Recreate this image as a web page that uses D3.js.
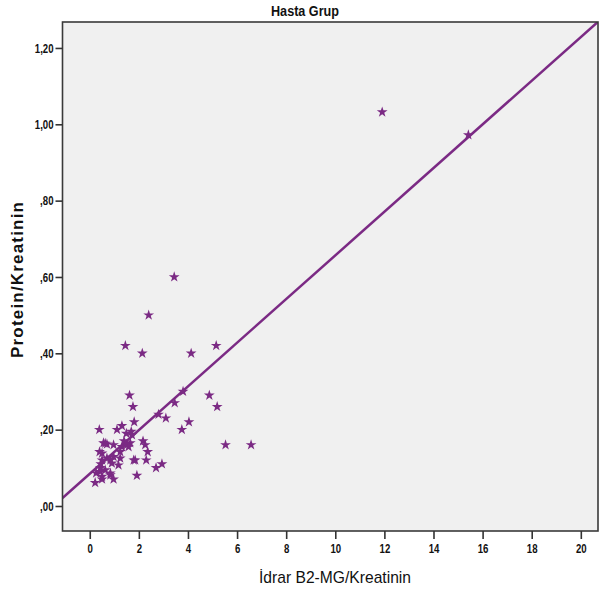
<!DOCTYPE html>
<html>
<head>
<meta charset="utf-8">
<script src="https://cdn.jsdelivr.net/npm/d3@7"></script>
<style>
  body { margin: 0; background: #fff; }
  text { font-family: "Liberation Sans", Arial, sans-serif; }
</style>
</head>
<body>
<div id="chart"></div>
<script>
// values
const b2mg = [11.91, 15.42, 3.44, 2.40, 2.14, 1.45, 4.13, 5.15, 3.80, 3.46, 4.87, 5.19, 2.80, 3.10,
  4.04, 3.75, 5.53, 6.57, 1.62, 1.76, 1.81, 0.39, 1.11, 1.31, 1.49, 1.69, 1.65, 1.51, 2.17, 2.26,
  2.36, 2.30, 1.85, 2.70, 2.94, 1.92, 0.56, 0.70, 0.40, 0.50, 0.43, 0.26, 0.22, 0.50, 0.84, 0.97,
  1.24, 1.17, 0.84, 0.70, 0.63, 0.97, 1.31, 1.24, 1.58, 1.79, 0.50, 0.97, 0.90, 0.63, 0.43, 0.84,
  0.50, 1.72, 1.40, 0.45];
const protein = [1.032, 0.972, 0.60, 0.50, 0.40, 0.42, 0.40, 0.42, 0.30, 0.27, 0.29, 0.26, 0.24, 0.23,
  0.22, 0.20, 0.16, 0.16, 0.29, 0.26, 0.22, 0.20, 0.20, 0.21, 0.19, 0.195, 0.165, 0.16, 0.17, 0.16,
  0.142, 0.12, 0.12, 0.10, 0.11, 0.08, 0.165, 0.162, 0.142, 0.12, 0.10, 0.086, 0.061, 0.07, 0.081, 0.07,
  0.125, 0.107, 0.12, 0.125, 0.164, 0.16, 0.155, 0.142, 0.155, 0.12, 0.138, 0.129, 0.112, 0.094, 0.09, 0.086,
  0.077, 0.186, 0.17, 0.11];
const xTicks = [0, 2, 4, 6, 8, 10, 12, 14, 16, 18, 20];
const yTicks = [0, 0.2, 0.4, 0.6, 0.8, 1.0, 1.2];
const fitIntercept = 0.0845;
const fitSlope = 0.0572;

const width = 600, height = 597;
const pLeft = 62.5, pRight = 598, pTop = 22, pBottom = 531;
const purple = '#7b2a84';

const x = d3.scaleLinear().domain([-1.11, 20.7]).range([pLeft, pRight]);
const y = d3.scaleLinear().domain([-0.0655, 1.268]).range([pBottom, pTop]);

const svg = d3.select('#chart').append('svg').attr('width', width).attr('height', height);

svg.append('rect')
  .attr('x', pLeft).attr('y', pTop)
  .attr('width', pRight - pLeft).attr('height', pBottom - pTop)
  .attr('fill', '#f0f0f0');

// clip for the fit line
svg.append('clipPath').attr('id', 'plotclip')
  .append('rect').attr('x', pLeft).attr('y', pTop).attr('width', pRight - pLeft).attr('height', pBottom - pTop);

const fx = x.domain();
svg.append('line')
  .attr('clip-path', 'url(#plotclip)')
  .attr('x1', x(fx[0])).attr('y1', y(fitIntercept + fitSlope * fx[0]))
  .attr('x2', x(fx[1])).attr('y2', y(fitIntercept + fitSlope * fx[1]))
  .attr('stroke', purple).attr('stroke-width', 2.5);

const star = d3.symbol().type(d3.symbolStar).size(36);
svg.append('g')
  .selectAll('path')
  .data(b2mg.map((d, i) => [d, protein[i]]))
  .enter()
  .append('path')
  .attr('d', star)
  .attr('transform', d => `translate(${x(d[0])},${y(d[1])})`)
  .attr('fill', purple);

// frame
svg.append('rect')
  .attr('x', pLeft).attr('y', pTop)
  .attr('width', pRight - pLeft).attr('height', pBottom - pTop)
  .attr('fill', 'none').attr('stroke', '#3a3a3a').attr('stroke-width', 1.6);

const fmt = v => (v === 0 ? ',00' : d3.format('.2f')(v).replace(/^0/, '').replace('.', ','));

const xAxis = svg.append('g')
  .attr('transform', `translate(0,${pBottom})`)
  .call(d3.axisBottom(x).tickValues(xTicks).tickSize(8).tickPadding(5).tickFormat(d3.format('d')));
const yAxis = svg.append('g')
  .attr('transform', `translate(${pLeft},0)`)
  .call(d3.axisLeft(y).tickValues(yTicks).tickSize(7).tickPadding(2).tickFormat(fmt));

// narrow look: squeeze the glyphs
const squeeze = (sel, k) => sel.each(function () {
  const w = this.getComputedTextLength();
  d3.select(this).attr('textLength', w * k).attr('lengthAdjust', 'spacingAndGlyphs');
});

[xAxis, yAxis].forEach(g => {
  g.select('.domain').remove();
  g.selectAll('.tick line').attr('stroke', '#333').attr('stroke-width', 1.6);
  g.selectAll('.tick text')
    .attr('fill', '#111')
    .style('font-size', '13px')
    .style('font-weight', 'bold')
    .style('font-family', '"Liberation Sans", Arial, sans-serif')
    .call(squeeze, 0.74);
});

svg.append('text')
  .attr('x', 305).attr('y', 16)
  .attr('text-anchor', 'middle')
  .style('font-size', '14px')
  .style('font-weight', 'bold')
  .attr('fill', '#111')
  .text('Hasta Grup')
  .attr('textLength', 68).attr('lengthAdjust', 'spacingAndGlyphs');

svg.append('text')
  .attr('x', 335).attr('y', 583)
  .attr('text-anchor', 'middle')
  .style('font-size', '17px')
  .attr('fill', '#111')
  .text('İdrar B2-MG/Kreatinin')
  .attr('textLength', 152).attr('lengthAdjust', 'spacingAndGlyphs');

svg.append('text')
  .attr('transform', 'translate(23,280) rotate(-90)')
  .attr('text-anchor', 'middle')
  .style('font-size', '17px')
  .style('font-weight', 'bold')
  .attr('fill', '#111')
  .text('Protein/Kreatinin')
  .attr('textLength', 156).attr('lengthAdjust', 'spacing');
</script>
</body>
</html>
